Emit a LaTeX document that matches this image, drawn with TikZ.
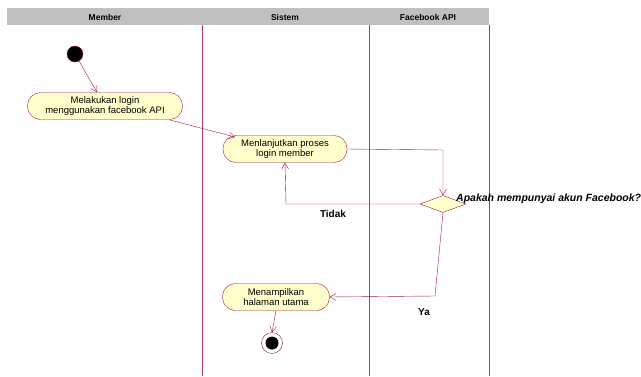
\documentclass[tikz,border=0pt]{standalone}
\usepackage{fontspec}
\setmainfont{Liberation Sans}
\usetikzlibrary{arrows.meta,shapes.geometric}
\definecolor{ln}{HTML}{A3164A}
\definecolor{fl}{HTML}{FFFFCC}
\definecolor{hd}{HTML}{C0C0C0}
\tikzset{
  act/.style={draw=ln, fill=fl, rounded corners=13pt, minimum height=27pt, align=center, inner sep=1pt, font=\fontsize{9.5}{10.5}\selectfont},
  flow/.style={draw=ln, -{Straight Barb[length=6pt,width=7pt]}},
  lane/.style={draw=ln!85, line width=0.6pt},
  hdr/.style={font=\fontsize{8.5}{9}\selectfont\bfseries},
  lbl/.style={font=\fontsize{10}{11}\selectfont\bfseries}
}
\begin{document}
\begin{tikzpicture}[x=1pt,y=-1pt]
\useasboundingbox (0,0) rectangle (641,376);
\fill[hd] (7,8) rectangle (489,25);
\node[hdr] (hm) at (105,17) {Member};
\node[hdr] (hs) at (285,17) {Sistem};
\node[hdr] (hf) at (428,17) {Facebook API};
\draw[lane] (202,25) -- (202,376);
\draw[lane] (369,25) -- (369,376);
\draw[lane] (489,25) -- (489,376);
\node[circle, fill=black, draw=ln, minimum size=16pt, inner sep=0pt] (start) at (75,54) {};
\node[act, minimum width=155pt] (a1) at (105,106) {Melakukan login\\menggunakan facebook API};
\node[act, minimum width=124pt] (a2) at (285,149) {Menlanjutkan proses\\login member};
\node[diamond, draw=ln, fill=fl, minimum width=46pt, minimum height=17pt, inner sep=0pt] (d) at (443,204) {};
\node[anchor=west, font=\fontsize{10.5}{11}\selectfont\bfseries\itshape, inner sep=0pt] (q) at (456,199) {Apakah mempunyai akun Facebook?};
\node[act, minimum width=107pt] (a3) at (276,297) {Menampilkan\\halaman utama};
\node[circle, draw=ln, fill=white, minimum size=21pt, inner sep=0pt] (end) at (272,343) {};
\node[circle, fill=black, minimum size=13pt, inner sep=0pt] (endin) at (end) {};
\coordinate (c1) at (443,150);
\coordinate (c2) at (286,204);
\coordinate (c3) at (435,296);
\draw[flow] (start) -- (a1.north -| 97,0);
\draw[flow] (170,120) -- (235,137);
\draw[flow] (a2.east) -- (c1) -- (d.north);
\draw[flow] (d.west) -- (c2) -- (a2.south);
\draw[flow] (d.south) -- (c3) -- (a3.east);
\draw[flow] (a3.south) -- (end.north);
\node[lbl] (tidak) at (333,214) {Tidak};
\node[lbl] (ya) at (424,312) {Ya};
\end{tikzpicture}
\end{document}
